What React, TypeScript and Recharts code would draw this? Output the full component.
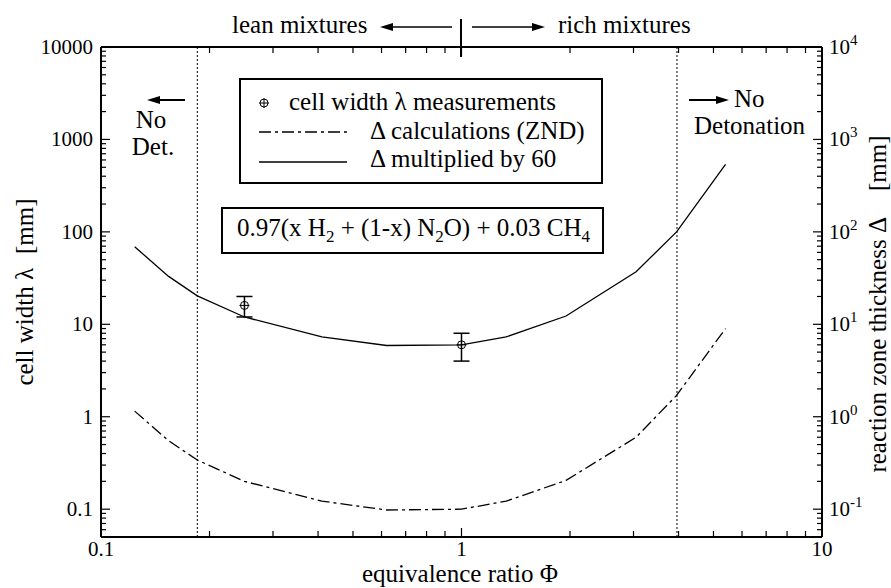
import { ComposedChart, Line, Scatter, ErrorBar, XAxis, YAxis, ReferenceLine } from "recharts";

// equivalence ratio at each computed point
const phi = [0.124, 0.154, 0.185, 0.25, 0.41, 0.62, 1.0, 1.33, 1.95, 3.05, 3.95, 5.4];
// reaction zone thickness multiplied by 60 [mm]
const deltaTimes60 = [69, 33, 20.3, 12, 7.3, 5.9, 6.0, 7.3, 12.3, 37, 100, 537];
// ZND reaction zone thickness [mm]
const deltaZnd = [1.15, 0.55, 0.34, 0.2, 0.122, 0.098, 0.1, 0.122, 0.205, 0.6, 1.7, 9.0];

// measured cell widths
const measPhi = [0.25, 1.0];
const measLambda = [16, 6];
const measLow = [12, 4];
const measHigh = [20, 8];

const xMajor = [0.1, 1, 10];
const xLabels = ["0.1", "1", "10"];
const yMajor = [0.1, 1, 10, 100, 1000, 10000];
const yLeftLabels = ["0.1", "1", "10", "100", "1000", "10000"];
const yRightExp = ["-1", "0", "1", "2", "3", "4"];
const minorMult = [2, 3, 4, 5, 6, 7, 8, 9];

// detonation limits
const leanLimit = 0.185;
const richLimit = 3.96;

const Y_MIN = 0.05;
const Y_MAX = 10000;

const curve = phi.map((p, i) => ({ phi: p, solid: deltaTimes60[i], znd: deltaZnd[i] }));
const meas = measPhi.map((p, i) => ({
  phi: p,
  lambda: measLambda[i],
  err: [measLambda[i] - measLow[i], measHigh[i] - measLambda[i]],
}));

const withMinor = (majors: number[], lo: number, hi: number) => {
  const out: number[] = [];
  [majors[0] / 10, ...majors].forEach((d) => {
    [1, ...minorMult].forEach((m) => {
      const v = +(m * d).toPrecision(6);
      if (v >= lo - 1e-9 && v <= hi + 1e-9 && !out.includes(v)) out.push(v);
    });
  });
  return out.sort((a, b) => a - b);
};
const xTicks = withMinor(xMajor, 0.1, 10);
const yTicks = withMinor(yMajor, Y_MIN, Y_MAX);

const majorIdx = (arr: number[], v: number) => arr.findIndex((m) => Math.abs(m - v) / m < 1e-6);

const FONT = "Liberation Serif";
const txt = { fontFamily: FONT };

const BottomTick = (p: any) => {
  const i = majorIdx(xMajor, p.payload.value);
  return (
    <g>
      <line x1={p.x} x2={p.x} y1={p.y} y2={p.y - (i >= 0 ? 9 : 6)} stroke="#000" strokeWidth={1.2} />
      {i >= 0 && (
        <text x={p.x} y={p.y + 19} textAnchor="middle" fontSize={21} style={txt}>
          {xLabels[i]}
        </text>
      )}
    </g>
  );
};

const TopTick = (p: any) => {
  const i = majorIdx(xMajor, p.payload.value);
  return <line x1={p.x} x2={p.x} y1={p.y} y2={p.y + (i >= 0 ? 9 : 6)} stroke="#000" strokeWidth={1.2} />;
};

const LeftTick = (p: any) => {
  const i = majorIdx(yMajor, p.payload.value);
  return (
    <g>
      <line x1={p.x} x2={p.x + (i >= 0 ? 9 : 5)} y1={p.y} y2={p.y} stroke="#000" strokeWidth={1.2} />
      {i >= 0 && (
        <text x={p.x - 8} y={p.y + 7} textAnchor="end" fontSize={21} style={txt}>
          {yLeftLabels[i]}
        </text>
      )}
    </g>
  );
};

const RightTick = (p: any) => {
  const i = majorIdx(yMajor, p.payload.value);
  return (
    <g>
      <line x1={p.x} x2={p.x - (i >= 0 ? 9 : 5)} y1={p.y} y2={p.y} stroke="#000" strokeWidth={1.2} />
      {i >= 0 && (
        <text x={p.x + 7} y={p.y + 7} textAnchor="start" fontSize={21} style={txt}>
          10
          <tspan dy={-9} fontSize={15}>{yRightExp[i]}</tspan>
        </text>
      )}
    </g>
  );
};

const Marker = (p: any) => (
  <g stroke="#000" strokeWidth={1} fill="none">
    <circle cx={p.cx} cy={p.cy} r={4} />
    <line x1={p.cx - 5} x2={p.cx + 5} y1={p.cy} y2={p.cy} />
    <line x1={p.cx} x2={p.cx} y1={p.cy - 5} y2={p.cy + 5} />
  </g>
);

const DASHDOT = "12 4 3 4";

export default function App() {
  return (
    <div style={{ position: "absolute", left: 0, top: 0, width: 891, height: 588, background: "#fff", fontFamily: FONT }}>
      <ComposedChart width={891} height={588} data={curve} margin={{ top: 0, right: 0, bottom: 0, left: 0 }}>
        <XAxis
          dataKey="phi"
          type="number"
          scale="log"
          domain={[0.1, 10]}
          allowDataOverflow
          ticks={xTicks}
          interval={0}
          height={51}
          tickSize={0}
          tickMargin={0}
          tickLine={false}
          tick={<BottomTick />}
          axisLine={{ stroke: "#000", strokeWidth: 2 }}
        />
        <XAxis
          xAxisId="top"
          orientation="top"
          dataKey="phi"
          type="number"
          scale="log"
          domain={[0.1, 10]}
          allowDataOverflow
          ticks={xTicks}
          interval={0}
          height={47}
          tickSize={0}
          tickMargin={0}
          tickLine={false}
          tick={<TopTick />}
          axisLine={{ stroke: "#000", strokeWidth: 2 }}
        />
        <YAxis
          yAxisId="left"
          type="number"
          scale="log"
          domain={[Y_MIN, Y_MAX]}
          allowDataOverflow
          ticks={yTicks}
          interval={0}
          width={101}
          tickSize={0}
          tickMargin={0}
          tickLine={false}
          tick={<LeftTick />}
          axisLine={{ stroke: "#000", strokeWidth: 2 }}
        />
        <YAxis
          yAxisId="right"
          orientation="right"
          type="number"
          scale="log"
          domain={[Y_MIN, Y_MAX]}
          allowDataOverflow
          ticks={yTicks}
          interval={0}
          width={69}
          tickSize={0}
          tickMargin={0}
          tickLine={false}
          tick={<RightTick />}
          axisLine={{ stroke: "#000", strokeWidth: 2 }}
        />
        <ReferenceLine yAxisId="left" x={leanLimit} stroke="#000" strokeWidth={1} strokeDasharray="2 2" />
        <ReferenceLine yAxisId="left" x={richLimit} stroke="#000" strokeWidth={1} strokeDasharray="2 2" />
        <Line
          yAxisId="left"
          dataKey="solid"
          type="linear"
          stroke="#000"
          strokeWidth={1.3}
          dot={false}
          activeDot={false}
          isAnimationActive={false}
        />
        <Line
          yAxisId="right"
          dataKey="znd"
          type="linear"
          stroke="#000"
          strokeWidth={1.3}
          strokeDasharray={DASHDOT}
          dot={false}
          activeDot={false}
          isAnimationActive={false}
        />
        <Scatter yAxisId="left" data={meas} dataKey="lambda" shape={<Marker />} isAnimationActive={false}>
          <ErrorBar dataKey="err" direction="y" width={8} stroke="#000" strokeWidth={1.5} />
        </Scatter>
      </ComposedChart>

      <svg
        width={891}
        height={588}
        style={{ position: "absolute", left: 0, top: 0, pointerEvents: "none", fontFamily: FONT, fontSize: 25 }}
      >
        {/* top annotation */}
        <text x={232} y={33} style={txt}>lean mixtures</text>
        <line x1={392} x2={452} y1={27} y2={27} stroke="#000" strokeWidth={1.5} />
        <polygon points="380,27 393,23 393,31" fill="#000" />
        <line x1={461} x2={461} y1={19} y2={57} stroke="#000" strokeWidth={2} />
        <line x1={472} x2={533} y1={27} y2={27} stroke="#000" strokeWidth={1.5} />
        <polygon points="545,27 532,23 532,31" fill="#000" />
        <text x={558} y={33} style={txt}>rich mixtures</text>

        {/* no detonation notes */}
        <line x1={158} x2={185} y1={100} y2={100} stroke="#000" strokeWidth={2} />
        <polygon points="147,100 160,96 160,104" fill="#000" />
        <text x={151} y={128} textAnchor="middle" style={txt}>No</text>
        <text x={153} y={155} textAnchor="middle" style={txt}>Det.</text>

        <line x1={689} x2={717} y1={100} y2={100} stroke="#000" strokeWidth={2} />
        <polygon points="729,100 716,96 716,104" fill="#000" />
        <text x={734} y={107} style={txt}>No</text>
        <text x={694} y={134} style={txt}>Detonation</text>

        {/* legend */}
        <rect x={240} y={79} width={362} height={104} fill="#fff" stroke="#000" strokeWidth={2} />
        <Marker cx={264} cy={103} />
        <text x={289} y={110} style={txt}>cell width λ measurements</text>
        <line x1={259} x2={347} y1={132} y2={132} stroke="#000" strokeWidth={1.3} strokeDasharray={DASHDOT} />
        <text x={370} y={139} style={txt}>Δ calculations (ZND)</text>
        <line x1={259} x2={347} y1={162} y2={162} stroke="#000" strokeWidth={1.3} />
        <text x={370} y={167} style={txt}>Δ multiplied by 60</text>

        {/* mixture box */}
        <rect x={222} y={208} width={381} height={45} fill="#fff" stroke="#000" strokeWidth={2} />
        <text x={237} y={236} style={txt}>
          0.97(x H<tspan dy={6} fontSize={17}>2</tspan>
          <tspan dy={-6}> + (1-x) N</tspan>
          <tspan dy={6} fontSize={17}>2</tspan>
          <tspan dy={-6}>O) + 0.03 CH</tspan>
          <tspan dy={6} fontSize={17}>4</tspan>
        </text>

        {/* axis titles */}
        <text x={460} y={582} textAnchor="middle" style={txt}>equivalence ratio Φ</text>
        <text x={33} y={292} textAnchor="middle" transform="rotate(-90 33 292)" style={txt}>
          cell width λ<tspan dx={14}>[mm]</tspan>
        </text>
        <text x={886} y={304} textAnchor="middle" transform="rotate(-90 886 304)" style={txt}>
          reaction zone thickness Δ<tspan dx={26}>[mm]</tspan>
        </text>
      </svg>
    </div>
  );
}
